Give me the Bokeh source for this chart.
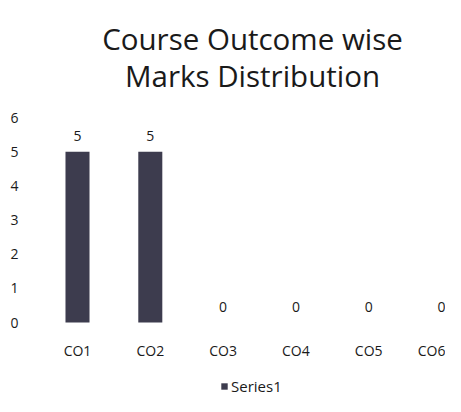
from bokeh.plotting import figure
from bokeh.models import (ColumnDataSource, Range1d, FixedTicker, LabelSet, Label,
                          Legend, LegendItem)
from bokeh.core.properties import value
from bokeh.embed import file_html
from bokeh.resources import INLINE

categories = ["CO1", "CO2", "CO3", "CO4", "CO5", "CO6"]
values = [5, 5, 0, 0, 0, 0]
y_ticks = [0, 1, 2, 3, 4, 5, 6]
series_name = "Series1"
title_lines = ["Course Outcome wise", "Marks Distribution"]

FONT = "Open Sans"
TXT = "#1a1a1a"
BAR = "#3d3c4e"

# layout (pixels within the figure)
W, H = 445, 396
LEFT = 44
Y6_PX, Y0_PX = 117, 322          # where the value axis runs from 6 down to 0
X_FIRST_PX, X_STEP_PX = 77, 72.8  # first category centre and category spacing
ppu = (Y0_PX - Y6_PX) / 6.0

def ydata(px):
    return 6 - (px - Y6_PX) / ppu

def xdata(px):
    return (px - X_FIRST_PX) / X_STEP_PX

xs = list(range(len(categories)))
src = ColumnDataSource(dict(x=xs, top=values, lbl=[str(v) for v in values]))

p = figure(width=W, height=H, output_backend="svg", toolbar_location=None,
           x_range=Range1d(xdata(LEFT), xdata(W)), y_range=Range1d(ydata(H), ydata(0)),
           min_border_left=LEFT, min_border_right=0, min_border_top=0, min_border_bottom=0)

r = p.vbar(x="x", top="top", width=0.33, source=src, fill_color=BAR, line_color=None)

labels = LabelSet(x="x", y="top", text="lbl", source=src, y_offset=11,
                  text_align="center", text_baseline="bottom",
                  text_font=value(FONT), text_font_size="14px", text_color=TXT)
p.add_layout(labels)

p.xaxis.ticker = FixedTicker(ticks=xs)
p.xaxis.major_label_overrides = {i: c for i, c in zip(xs, categories)}
p.xaxis.fixed_location = 0
p.yaxis.ticker = FixedTicker(ticks=y_ticks)

for ax in (p.xaxis[0], p.yaxis[0]):
    ax.axis_line_color = None
    ax.major_tick_line_color = None
    ax.minor_tick_line_color = None
    ax.major_label_text_font = FONT
    ax.major_label_text_font_size = "14px"
    ax.major_label_text_color = TXT
p.xaxis.major_label_standoff = 12
p.yaxis.major_label_standoff = 20

p.xgrid.grid_line_color = None
p.ygrid.grid_line_color = None
p.outline_line_color = None
p.background_fill_color = "white"
p.border_fill_color = "white"

legend = Legend(items=[LegendItem(label=series_name, renderers=[r])],
                orientation="horizontal", location=(176, 0),
                label_text_font=FONT, label_text_font_size="15px", label_text_color=TXT,
                glyph_width=8, glyph_height=8, label_standoff=3,
                border_line_color=None, background_fill_alpha=0, padding=0, margin=0)
p.add_layout(legend)

for line, cy in zip(title_lines, [38, 75]):
    p.add_layout(Label(x=xdata(252), y=ydata(cy), text=line, text_align="center",
                       text_baseline="middle", text_font=FONT,
                       text_font_size="29.5px", text_color=TXT))

open("out.html", "w").write(file_html(p, INLINE))
